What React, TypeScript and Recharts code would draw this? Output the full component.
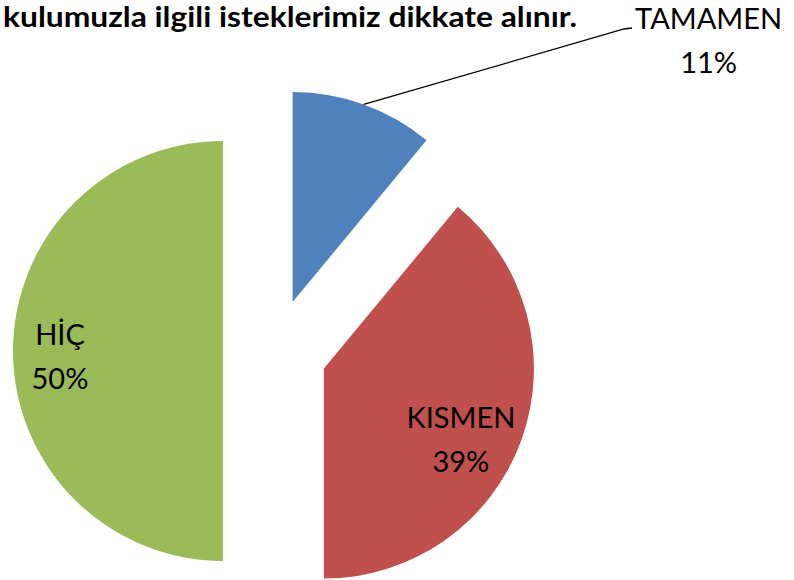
import React from 'react';
import { PieChart, Pie, Cell } from 'recharts';

const categories = ['TAMAMEN', 'KISMEN', 'HİÇ'];
const values = [11, 39, 50];
const percentLabels = ['11%', '39%', '50%'];
const titleText = 'kulumuzla ilgili isteklerimiz dikkate alınır.';

const colors = ['#4F81BD', '#C0504D', '#9BBB59'];
const W = 794;
const H = 580;
const BASE_CX = 275;
const BASE_CY = 351;
const RADIUS = 210;
const EXPLODE = 52;
const FONT = 'Lato, "Open Sans", sans-serif';
const LABEL_SIZE = 29;
const LINE_GAP = 44;
// label anchors (x center, first baseline) relative to each exploded slice centre
const labelOffsets = [
  { dx: 416, dy: -273 },
  { dx: 137, dy: 59 },
  { dx: -163, dy: -6 },
];
const leaderEnd = { x: 624, y: 29 };

const RAD = Math.PI / 180;
const total = values.reduce((a, b) => a + b, 0);
const data = categories.map((name, i) => ({ name, value: values[i], pct: percentLabels[i] }));

const sliceAngles = (() => {
  let cum = 0;
  return values.map((v) => {
    const start = 90 - (360 * cum) / total;
    cum += v;
    const end = 90 - (360 * cum) / total;
    return (start + end) / 2;
  });
})();

export default function App() {
  return (
    <div style={{ position: 'absolute', left: 0, top: 0, width: W, height: H, background: '#fff' }}>
      <PieChart width={W} height={H} margin={{ top: 0, right: 0, bottom: 0, left: 0 }}>
        {data.map((_, i) => {
          const mid = sliceAngles[i];
          const cx = BASE_CX + EXPLODE * Math.cos(mid * RAD);
          const cy = BASE_CY - EXPLODE * Math.sin(mid * RAD);
          const renderLabel = (props: any) => {
            const idx = props.index != null ? props.index : categories.indexOf(props.name);
            if (idx !== i) return null;
            const lx = cx + labelOffsets[i].dx;
            const ly = cy + labelOffsets[i].dy;
            const a = mid * RAD;
            const sx = cx + RADIUS * Math.cos(a);
            const sy = cy - RADIUS * Math.sin(a);
            return (
              <g key={'lbl' + i}>
                {i === 0 && (
                  <polyline
                    points={`${sx},${sy} ${leaderEnd.x},${leaderEnd.y} ${leaderEnd.x + 8},${leaderEnd.y - 1}`}
                    fill="none"
                    stroke="#000"
                    strokeWidth={1.3}
                  />
                )}
                <text x={lx} y={ly} textAnchor="middle" fontFamily={FONT} fontSize={LABEL_SIZE} fill="#000">
                  {categories[i]}
                </text>
                <text x={lx} y={ly + LINE_GAP} textAnchor="middle" fontFamily={FONT} fontSize={LABEL_SIZE} fill="#000">
                  {percentLabels[i]}
                </text>
              </g>
            );
          };
          return (
            <Pie
              key={'pie' + i}
              data={data}
              dataKey="value"
              nameKey="name"
              cx={cx}
              cy={cy}
              outerRadius={RADIUS}
              innerRadius={0}
              startAngle={90}
              endAngle={-270}
              isAnimationActive={false}
              stroke="none"
              labelLine={false}
              label={renderLabel}
            >
              {data.map((d, j) => (
                <Cell key={d.name} fill={j === i ? colors[i] : 'transparent'} stroke="none" />
              ))}
            </Pie>
          );
        })}
      </PieChart>
      <svg width={W} height={44} style={{ position: 'absolute', left: 0, top: 0 }}>
        <text x={3} y={27} fontFamily={FONT} fontWeight="bold" fontSize={28} fill="#000" textLength={574} lengthAdjust="spacingAndGlyphs">
          {titleText}
        </text>
      </svg>
    </div>
  );
}
